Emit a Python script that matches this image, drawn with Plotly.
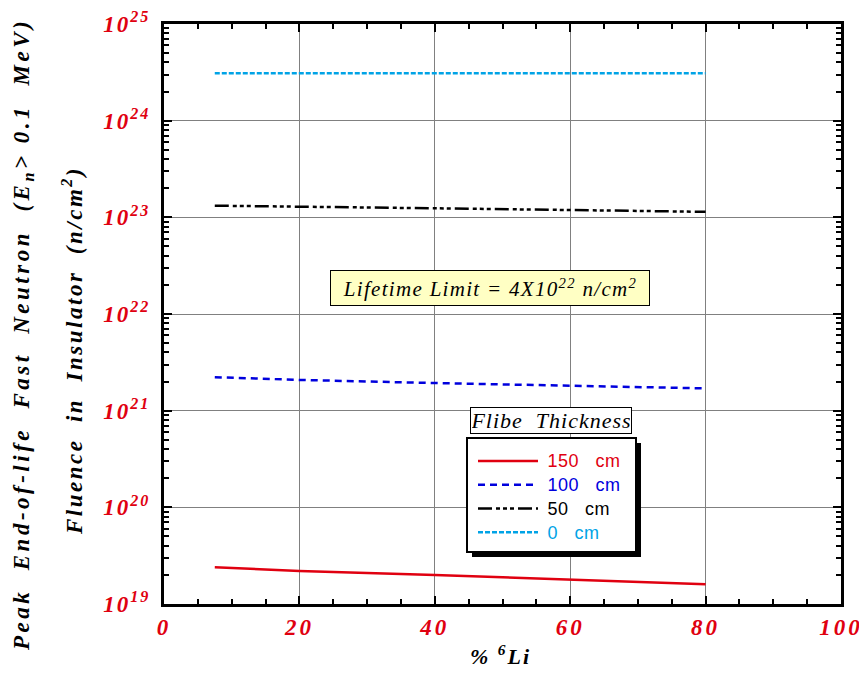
import plotly.graph_objects as go

li6 = [7.5, 20, 40, 60, 80]
flu_150 = [2.4e19, 2.2e19, 2.0e19, 1.8e19, 1.6e19]
flu_100 = [2.22e21, 2.08e21, 1.93e21, 1.82e21, 1.70e21]
flu_50 = [1.32e23, 1.28e23, 1.24e23, 1.19e23, 1.14e23]
flu_0 = [3.1e24, 3.1e24, 3.1e24, 3.1e24, 3.1e24]

names = ["150  cm", "100  cm", "50  cm", "0  cm"]
colors = ["#e00010", "#0000dd", "#000000", "#00a3e6"]
dashes = ["solid", "7px,5px", "14px,4px,4px,3px,4px,3px,4px,4px", "5px,2px"]
series = [flu_150, flu_100, flu_50, flu_0]

yexp = [19, 20, 21, 22, 23, 24, 25]
xtickvals = [0, 20, 40, 60, 80, 100]

ytickvals = [10.0 ** e for e in yexp]
yticktext = [f"<span style='letter-spacing:2px'>10<sup>{e}</sup></span>" for e in yexp]
xticktext = [f"<span style='letter-spacing:3px'>{v}</span>" for v in xtickvals]
yminor = [float(m) * 10.0 ** e for e in yexp[:-1] for m in range(2, 10)]

fig = go.Figure()
for n, c, d, s in zip(names, colors, dashes, series):
    fig.add_trace(go.Scatter(
        x=li6, y=s, mode="lines",
        name=(f"&nbsp;<span style='color:{c};font-size:18px;letter-spacing:0.5px'>"
              f"{n.replace('  ', '&nbsp;&nbsp; ')}</span>"),
        line=dict(color=c, width=2.5, dash=d),
    ))

serif = "Liberation Serif"
red = "#e00010"
tickfont = dict(family=serif, size=23, color=red, weight="bold", style="italic")

# page body has an 8px default margin -> compensate
fig.update_layout(
    width=867, height=683,
    margin=dict(l=156, r=34, t=16, b=87, autoexpand=False),
    paper_bgcolor="white", plot_bgcolor="white",
    showlegend=True,
    legend=dict(
        x=(473 - 164) / 677, y=(604 - 444) / 580, xanchor="left", yanchor="top",
        bgcolor="rgba(0,0,0,0)", borderwidth=0,
        font=dict(family="Liberation Sans", size=16, color="black"),
        itemwidth=60, tracegroupgap=0,
    ),
    xaxis=dict(
        range=[0, 100], tickvals=xtickvals, ticktext=xticktext, automargin=False,
        ticks="inside", ticklen=8, tickwidth=2, tickcolor="black",
        showline=True, linecolor="black", linewidth=3, mirror="allticks",
        showgrid=True, gridcolor="#808080", gridwidth=1, zeroline=False,
        tickfont=tickfont,
        minor=dict(dtick=5, ticks="inside", ticklen=5, tickwidth=2, tickcolor="black", showgrid=False),
    ),
    yaxis=dict(
        type="log", range=[19, 25], tickvals=ytickvals, ticktext=yticktext, automargin=False,
        ticks="inside", ticklen=8, tickwidth=2, tickcolor="black",
        showline=True, linecolor="black", linewidth=3, mirror="allticks",
        showgrid=True, gridcolor="#808080", gridwidth=1, zeroline=False,
        tickfont=tickfont, ticklabelstandoff=6,
        minor=dict(ticks="inside", ticklen=5, tickwidth=2, tickcolor="black", showgrid=False,
                   tickvals=yminor),
    ),
)

# legend box with drop shadow
fig.add_shape(type="rect", xref="paper", yref="paper",
              x0=(472 - 164) / 677, x1=(641 - 164) / 677,
              y0=(604 - 557) / 580, y1=(604 - 443) / 580,
              fillcolor="black", line=dict(width=0), layer="above")
fig.add_shape(type="rect", xref="paper", yref="paper",
              x0=(467 - 164) / 677, x1=(636 - 164) / 677,
              y0=(604 - 552) / 580, y1=(604 - 438) / 580,
              fillcolor="white", line=dict(color="black", width=2), layer="above")

fig.add_annotation(
    text="<span style='letter-spacing:1px'>Flibe  Thickness</span>", xref="paper", yref="paper",
    x=(551 - 164) / 677, y=(604 - 420) / 580, xanchor="center", yanchor="middle", showarrow=False,
    font=dict(family=serif, size=22, color="black", style="italic"),
    bgcolor="white", bordercolor="black", borderwidth=1, borderpad=1,
    width=158, height=23,
)

fig.add_annotation(
    text="<span style='letter-spacing:1.3px'>Lifetime Limit = 4X10<sup>22</sup> n/cm<sup>2</sup></span>",
    xref="paper", yref="paper",
    x=(490 - 164) / 677, y=(604 - 288) / 580, xanchor="center", yanchor="middle", showarrow=False,
    font=dict(family=serif, size=21, color="black", style="italic"),
    bgcolor="#ffffc4", bordercolor="black", borderwidth=1, borderpad=3,
    width=312, height=28,
)

titlefont = dict(family=serif, size=23, color="black", weight="bold", style="italic")
fig.add_annotation(
    text="<span style='letter-spacing:3.5px'>Peak&nbsp; End-of-life&nbsp; Fast&nbsp; Neutron&nbsp; (E<sub>n</sub>> 0.1&nbsp; MeV)</span>",
    xref="paper", yref="paper", x=(23 - 164) / 677, y=(604 - 335) / 580,
    xanchor="center", yanchor="middle",
    textangle=-90, showarrow=False, font=titlefont,
)
fig.add_annotation(
    text="<span style='letter-spacing:2.5px'>Fluence&nbsp; in&nbsp; Insulator&nbsp; (n/cm<sup>2</sup>)</span>",
    xref="paper", yref="paper", x=(72 - 164) / 677, y=(604 - 350) / 580,
    xanchor="center", yanchor="middle",
    textangle=-90, showarrow=False, font=titlefont,
)
fig.add_annotation(
    text="<span style='letter-spacing:2px'>% <sup>6</sup>Li</span>",
    xref="paper", yref="paper", x=(500 - 164) / 677, y=(604 - 655) / 580,
    xanchor="center", yanchor="middle",
    showarrow=False, font=dict(family=serif, size=22, color="black", weight="bold", style="italic"),
)

fig.write_html("out.html")
